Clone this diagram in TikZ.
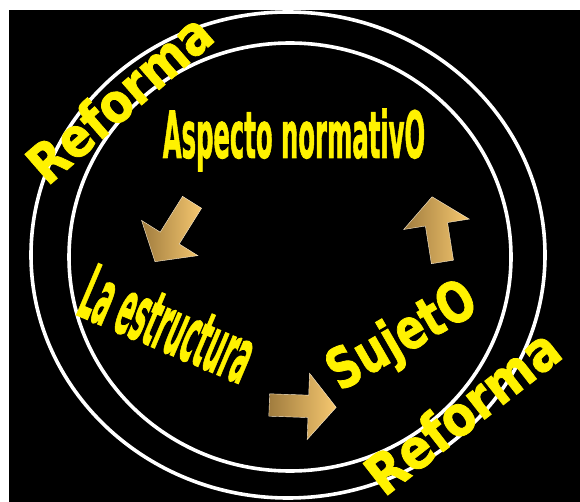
\documentclass[tikz,border=0pt]{standalone}
\usepackage{fontspec}
\setmainfont{Liberation Sans}
\newfontfamily\grasse[BoldFeatures={FakeBold=1.5}]{DejaVu Sans}
\newfontfamily\etroite[BoldFeatures={FakeBold=1.5}]{DejaVu Sans Condensed}
\usepackage{tikz}
\usetikzlibrary{shapes.arrows}
\definecolor{orfonce}{RGB}{160,124,62}
\definecolor{orclair}{RGB}{246,200,112}

\begin{document}
\begin{tikzpicture}[
    x=1pt, y=-1pt,
    anneau/.style={draw=white, line width=3.6pt},
    fleche/.style={single arrow, inner xsep=0pt, inner ysep=11pt,
      single arrow head extend=22pt, single arrow tip angle=100,
      left color=orfonce, right color=orclair, draw=white!70!orclair, line width=0.4pt},
    mot/.style={text=yellow, inner sep=0pt, font=\etroite\bfseries\fontsize{#1}{#1}\selectfont},
    reforme/.style={text=yellow, inner sep=0pt, font=\grasse\bfseries\fontsize{#1}{#1}\selectfont},
  ]
  \useasboundingbox (0,0) rectangle (580,502);
  \fill[black] (9,10) rectangle (580,502);          % le fond noir
  \draw[anneau] (288,255) ellipse [x radius=257, y radius=243];
  \draw[anneau] (290,257) ellipse [x radius=221, y radius=214];

  \node[rotate=41, yscale=1.15, reforme=47] (reforme1) at (119,98) {Reforma};
  \node[rotate=38, yscale=1.15, reforme=48] (reforme2) at (462,411) {Reforma};

  \node[yscale=2.4, mot=27] (aspecto) at (294,140) {Aspecto normativO};
  \node[rotate=-23, yscale=2.9, mot=26.5] (estructura) at (168,324) {La estructura};
  \node[rotate=30, yscale=1.3, reforme=43] (sujeto) at (403,338) {SujetO};

  \node[fleche, minimum height=70pt, rotate=238] (f1) at (176,228) {};
  \node[fleche, minimum height=67pt, rotate=-2] (f2) at (298,406) {};
  \node[fleche, minimum height=66pt, rotate=99] (f3) at (438,234) {};
\end{tikzpicture}
\end{document}
